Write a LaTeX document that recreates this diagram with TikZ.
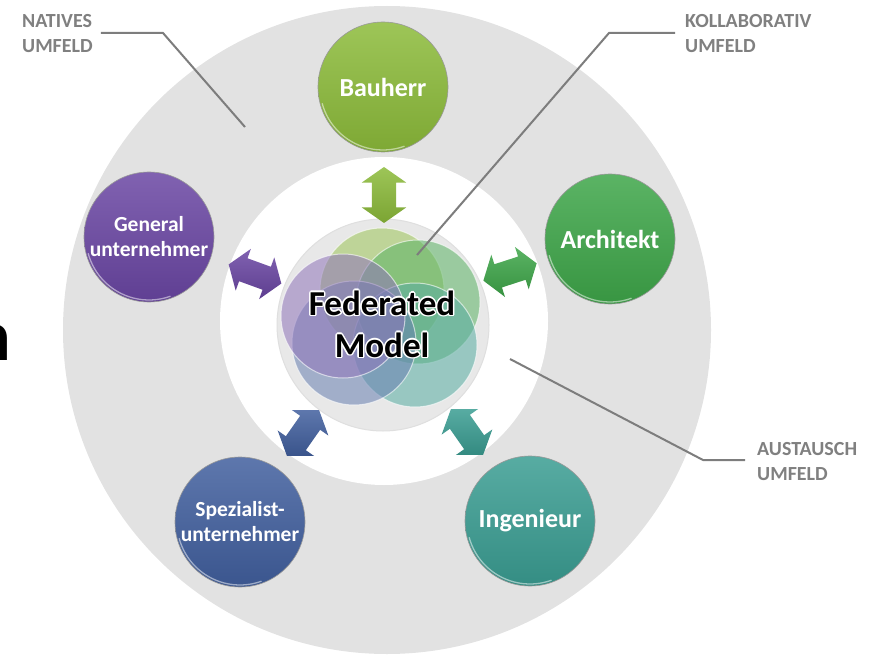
\documentclass[tikz,border=0pt]{standalone}
\usepackage{fontspec}
\setmainfont{Carlito}
\usetikzlibrary{shapes.arrows}
\definecolor{ring}{RGB}{226,226,226}
\definecolor{lead}{RGB}{125,125,125}
\definecolor{labgrey}{RGB}{128,128,128}
\definecolor{cBau}{RGB}{140,187,58}
\definecolor{cArch}{RGB}{62,166,73}
\definecolor{cIng}{RGB}{58,157,146}
\definecolor{cSpez}{RGB}{65,95,158}
\definecolor{cGen}{RGB}{106,70,163}
\tikzset{
 ball/.style={circle, minimum size=130pt, inner sep=0pt, top color=#1!85!white, bottom color=#1!90!black, draw=gray!80, line width=0.6pt, text=white, font=\bfseries\fontsize{26}{30}\selectfont, align=center},
 smalltext/.style={font=\bfseries\fontsize{21.5}{25}\selectfont},
 dblarrow/.style={double arrow, minimum height=56pt, inner xsep=0pt, inner ysep=12pt, double arrow head extend=10pt, double arrow tip angle=110, top color=#1!85!white, bottom color=#1!88!black},
 lab/.style={text=labgrey, font=\bfseries\fontsize{20}{25}\selectfont, align=left, inner sep=0pt},
 leader/.style={draw=lead, line width=2pt},
 venn/.style={circle, fill=#1, fill opacity=0.55, draw=white, draw opacity=0.6, line width=1pt, minimum size=124pt, inner sep=0pt},
 fmtext/.style={font=\bfseries\fontsize{35}{42}\selectfont, align=center, inner sep=0pt},
 hilite/.style={draw=white, draw opacity=0.5, line width=1.3pt},
}
\begin{document}
\begin{tikzpicture}[x=1pt,y=-1pt]
\useasboundingbox (0,0) rectangle (875,655);
\begin{scope}
\clip (0,0) rectangle (875,655);
% rings
\node[circle, fill=ring, minimum size=648pt, inner sep=0pt] (outer) at (387,330) {};
\node[circle, fill=white, minimum size=328pt, inner sep=0pt] (inner) at (384,321) {};
\node[circle, fill=gray!18, draw=gray!25, line width=1pt, minimum size=212pt, inner sep=0pt] (core) at (383,325) {};
% venn circles
\node[venn=cBau!85!white] (v1) at (382,290) {};
\node[venn=cArch!85!white] (v2) at (418,302) {};
\node[venn=cIng!85!white] (v3) at (415,345) {};
\node[venn=cSpez!80!white] (v4) at (354,343) {};
\node[venn=cGen!75!white] (v5) at (343,316) {};
% federated model text with halo
\foreach \dx/\dy in {1.6/0,-1.6/0,0/1.6,0/-1.6,1.1/1.1,-1.1/1.1,1.1/-1.1,-1.1/-1.1}{
  \node[fmtext, text=white, xshift=\dx pt, yshift=\dy pt] at (382,324) {Federated\\Model};
}
\node[fmtext, text=black] (fm) at (382,324) {Federated\\Model};
% outer balls
\node[ball=cBau] (bau) at (383,87) {Bauherr};
\node[ball=cArch] (arch) at (610,239) {Architekt};
\node[ball=cIng] (ing) at (530,521) {Ingenieur};
\node[ball=cSpez, smalltext] (spez) at (240,522) {Spezialist-\\unternehmer};
\node[ball=cGen, smalltext] (gen) at (149,237) {General\\unternehmer};
\foreach \b in {bau,arch,ing,spez,gen}{
  \draw[hilite] ([shift={(195:63pt)}]\b.center) arc[start angle=195, end angle=290, radius=63pt];
}
% double arrows
\node[dblarrow=cBau, rotate=90] (a1) at (384,195) {};
\node[dblarrow=cArch, rotate=18] (a2) at (510,272) {};
\node[dblarrow=cGen, rotate=160] (a3) at (255,274) {};
\node[dblarrow=cSpez, rotate=235] (a4) at (303,433) {};
\node[dblarrow=cIng, rotate=305] (a5) at (467,432) {};
% labels
\node[lab, anchor=west] (nat) at (22,34) {NATIVES\\UMFELD};
\node[lab, anchor=west] (kol) at (685,34) {KOLLABORATIV\\UMFELD};
\node[lab, anchor=west] (aus) at (757,462) {AUSTAUSCH\\UMFELD};
\coordinate (natc) at (163,33);
\coordinate (nate) at (245,127);
\coordinate (kolc) at (609,33);
\coordinate (kole) at (417,255);
\coordinate (ausc) at (703,460);
\coordinate (ause) at (510,359);
\draw[leader] ([xshift=8pt]nat.east |- natc) -- (natc) -- (nate);
\draw[leader] ([xshift=-10pt]kol.west |- kolc) -- (kolc) -- (kole);
\draw[leader] ([xshift=-12pt]aus.west |- ausc) -- (ausc) -- (ause);
% partial letter at left edge
\node[font=\bfseries\fontsize{72}{72}\selectfont, anchor=base east, inner sep=0pt] (nfrag) at (11,360) {n};
\end{scope}
\end{tikzpicture}
\end{document}
